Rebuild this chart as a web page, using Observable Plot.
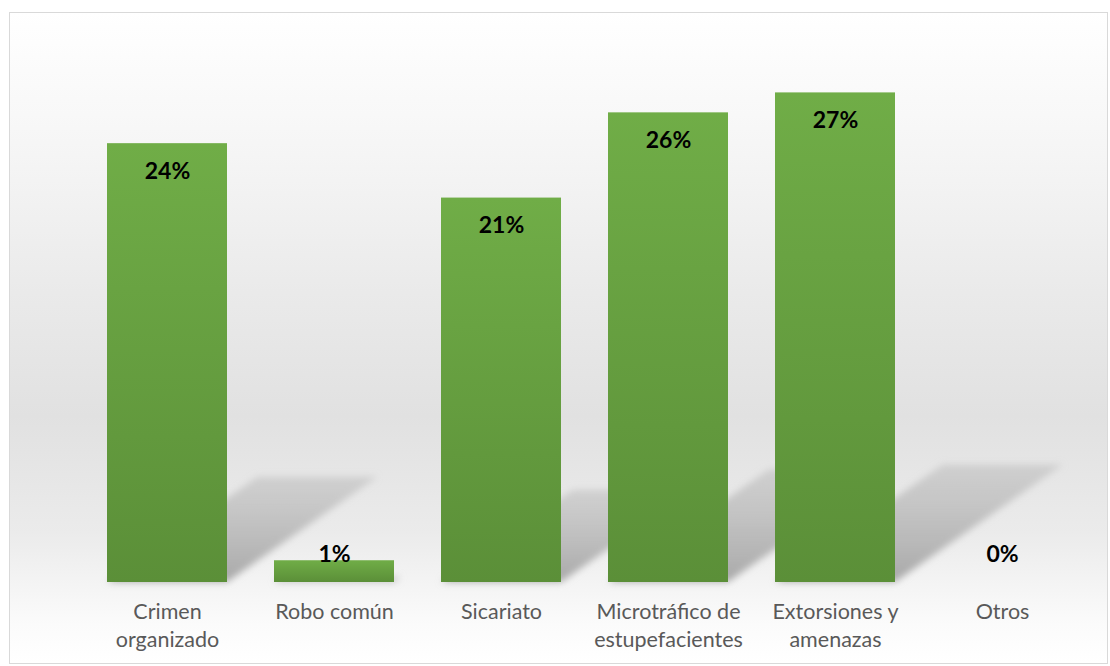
<!DOCTYPE html>
<html>
<head>
<meta charset="utf-8">
<script src="https://cdn.jsdelivr.net/npm/d3@7"></script>
<script src="https://cdn.jsdelivr.net/npm/@observablehq/plot@0.6"></script>
<style>
  html, body { margin: 0; padding: 0; background: #ffffff; }
  #wrap { position: relative; width: 1110px; height: 666px; overflow: hidden; }
  #frame {
    position: absolute; left: 9px; top: 12px; width: 1097px; height: 650px;
    border: 1px solid #d9d9d9;
    background: linear-gradient(to bottom, #ffffff 0%, #f6f6f6 20%, #e9e9e9 45%, #e1e1e1 62%, #ebebeb 80%, #fbfbfb 94%, #ffffff 100%);
  }
  #chart { position: absolute; left: 0; top: 0; }
</style>
</head>
<body>
<div id="wrap"><div id="frame"></div><div id="chart"></div></div>
<script>
// Data
const categories = ["Crimen organizado", "Robo común", "Sicariato", "Microtráfico de estupefacientes", "Extorsiones y amenazas", "Otros"];
const tickLabels = ["Crimen\norganizado", "Robo común", "Sicariato", "Microtráfico de\nestupefacientes", "Extorsiones y\namenazas", "Otros"];
const values = [24.2, 1.2, 21.2, 25.9, 27.0, 0];

const data = categories.map((c, i) => ({cat: c, v: values[i], label: tickLabels[i]}));
const labelOf = new Map(data.map(d => [d.cat, d.label]));
const big = data.filter(d => d.v >= 5);
const small = data.filter(d => d.v < 5);

const font = "Lato, 'Open Sans', sans-serif";

const plot = Plot.plot({
  width: 1110,
  height: 666,
  marginLeft: 82,
  marginRight: 23,
  marginTop: 38,
  marginBottom: 84,
  style: {background: "transparent", fontFamily: font, overflow: "visible"},
  x: {domain: categories, paddingInner: 0.284, paddingOuter: 0.142, label: null},
  y: {domain: [0, 30], axis: null},
  marks: [
    Plot.rectY(data.filter(d => d.v > 0), {x: "cat", y: "v", fill: "#9a9a9a", className: "shadowmark"}),
    Plot.rectY(data, {x: "cat", y: "v", fill: "#6aa843", className: "barmark"}),
    Plot.text(big, {x: "cat", y: "v", text: d => `${Math.round(d.v)}%`, dy: 28,
      fontSize: 23, fontWeight: "bold", fill: "#000000"}),
    Plot.text(small, {x: "cat", y: () => 0, text: d => `${Math.round(d.v)}%`, dy: -28,
      fontSize: 23, fontWeight: "bold", fill: "#000000"}),
    Plot.axisX({tickSize: 0, tickPadding: 16, tickFormat: c => labelOf.get(c),
      fontSize: 21.5, lineHeight: 1.33, fill: "#595959", label: null})
  ]
});

// gradients, blur filter and perspective transform for shadows
const svg = d3.select(plot);
const defs = svg.insert("defs", ":first-child");
const g = defs.append("linearGradient").attr("id", "barGrad")
  .attr("x1", 0).attr("y1", 0).attr("x2", 0).attr("y2", 1);
g.append("stop").attr("offset", "0%").attr("stop-color", "#70ad47");
g.append("stop").attr("offset", "100%").attr("stop-color", "#5b8f38");
const sg = defs.append("linearGradient").attr("id", "shadowGrad")
  .attr("x1", 0).attr("y1", 0).attr("x2", 0).attr("y2", 1);
sg.append("stop").attr("offset", "0%").attr("stop-color", "#bdbdbd").attr("stop-opacity", 0.55);
sg.append("stop").attr("offset", "100%").attr("stop-color", "#a8a8a8").attr("stop-opacity", 1);
const f = defs.append("filter").attr("id", "blurF")
  .attr("x", "-30%").attr("y", "-30%").attr("width", "160%").attr("height", "160%");
f.append("feGaussianBlur").attr("stdDeviation", 3.5);

// the rect marks in order: first = shadows, second = bars
const rectGroups = svg.selectAll("g").filter(function() {
  return this.querySelector(":scope > rect") !== null;
}).nodes();
const shadowG = svg.select("g.shadowmark").node() || rectGroups[0];
const barG = svg.select("g.barmark").node() || rectGroups[1];

d3.select(barG).selectAll("rect").attr("fill", "url(#barGrad)");
d3.select(shadowG).attr("filter", "url(#blurF)");
d3.select(shadowG).selectAll("rect").each(function() {
  const r = d3.select(this);
  const x = +r.attr("x"), y = +r.attr("y"), w = +r.attr("width"), h = +r.attr("height");
  // perspective shadow: scale height and skew to the right about the bar base
  const cx = x + w / 2, by = y + h;
  r.attr("fill", "url(#shadowGrad)")
   .attr("transform", `translate(${cx},${by}) skewX(-55) scale(1,0.24) translate(${-cx},${-by})`);
});

document.getElementById("chart").appendChild(plot);
</script>
</body>
</html>
